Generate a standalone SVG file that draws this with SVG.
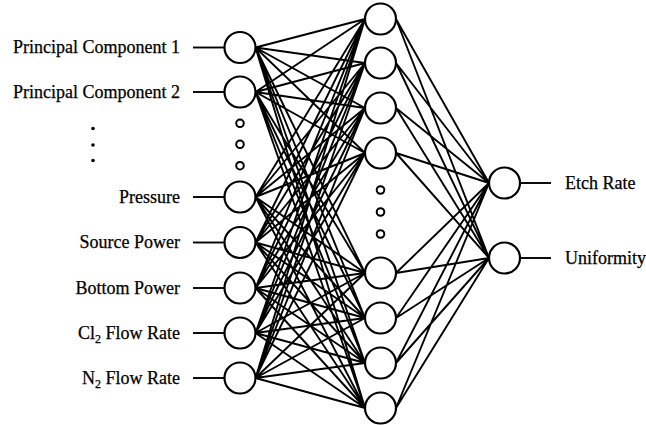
<svg xmlns="http://www.w3.org/2000/svg" width="646" height="425" viewBox="0 0 646 425">
  <style>
    .node { fill: #fff; stroke: #000; stroke-width: 2.2; }
    .dot-node { fill: #fff; stroke: #000; stroke-width: 2; }
    .edge { stroke: #000; stroke-width: 1.9; fill: none; }
    .lead { stroke: #000; stroke-width: 1.9; }
    .label { font-family: "Liberation Serif", "Times New Roman", serif; font-size: 18px; fill: #000; stroke: #000; stroke-width: 0.25; }
    .sub { font-size: 12px; }
  </style>
  <rect width="646" height="425" fill="#fff"/>

  <!-- connectors: input layer -> hidden layer -> output layer -->
  <g id="connectors">
    <g id="input-hidden">
      <!-- from each input (x=255.5) to each hidden node (x=365) -->
      <path class="edge" d="
        M255.5,47.5 L365,19 M255.5,47.5 L365,63 M255.5,47.5 L365,108 M255.5,47.5 L365,153 M255.5,47.5 L365,273 M255.5,47.5 L365,318 M255.5,47.5 L365,363 M255.5,47.5 L365,408
        M255.5,92 L365,19 M255.5,92 L365,63 M255.5,92 L365,108 M255.5,92 L365,153 M255.5,92 L365,273 M255.5,92 L365,318 M255.5,92 L365,363 M255.5,92 L365,408
        M255.5,197 L365,19 M255.5,197 L365,63 M255.5,197 L365,108 M255.5,197 L365,153 M255.5,197 L365,273 M255.5,197 L365,318 M255.5,197 L365,363 M255.5,197 L365,408
        M255.5,242.5 L365,19 M255.5,242.5 L365,63 M255.5,242.5 L365,108 M255.5,242.5 L365,153 M255.5,242.5 L365,273 M255.5,242.5 L365,318 M255.5,242.5 L365,363 M255.5,242.5 L365,408
        M255.5,288 L365,19 M255.5,288 L365,63 M255.5,288 L365,108 M255.5,288 L365,153 M255.5,288 L365,273 M255.5,288 L365,318 M255.5,288 L365,363 M255.5,288 L365,408
        M255.5,333 L365,19 M255.5,333 L365,63 M255.5,333 L365,108 M255.5,333 L365,153 M255.5,333 L365,273 M255.5,333 L365,318 M255.5,333 L365,363 M255.5,333 L365,408
        M255.5,378 L365,19 M255.5,378 L365,63 M255.5,378 L365,108 M255.5,378 L365,153 M255.5,378 L365,273 M255.5,378 L365,318 M255.5,378 L365,363 M255.5,378 L365,408"/>
    </g>
    <g id="hidden-output">
      <!-- from each hidden node (x=396) to both outputs (x=489) -->
      <path class="edge" d="
        M396,19 L489,183 M396,19 L489,258
        M396,63 L489,183 M396,63 L489,258
        M396,108 L489,183 M396,108 L489,258
        M396,153 L489,183 M396,153 L489,258
        M396,273 L489,183 M396,273 L489,258
        M396,318 L489,183 M396,318 L489,258
        M396,363 L489,183 M396,363 L489,258
        M396,408 L489,183 M396,408 L489,258"/>
    </g>
    <g id="leads">
      <line class="lead" x1="193" y1="47.5" x2="224.5" y2="47.5"/>
      <line class="lead" x1="193" y1="92" x2="224.5" y2="92"/>
      <line class="lead" x1="193" y1="197" x2="224.5" y2="197"/>
      <line class="lead" x1="193" y1="242.5" x2="224.5" y2="242.5"/>
      <line class="lead" x1="193" y1="288" x2="224.5" y2="288"/>
      <line class="lead" x1="193" y1="333" x2="224.5" y2="333"/>
      <line class="lead" x1="193" y1="378" x2="224.5" y2="378"/>
      <line class="lead" x1="520" y1="183" x2="551" y2="183"/>
      <line class="lead" x1="520" y1="258" x2="551" y2="258"/>
    </g>
  </g>

  <!-- input layer -->
  <g id="in-pc1"><circle class="node" cx="240" cy="47.5" r="15.5"/><text class="label" x="180" y="53" text-anchor="end">Principal Component 1</text></g>
  <g id="in-pc2"><circle class="node" cx="240" cy="92" r="15.5"/><text class="label" x="180" y="97.5" text-anchor="end">Principal Component 2</text></g>
  <g id="in-ellipsis">
    <circle class="dot-node" cx="240" cy="123.3" r="3.8"/>
    <circle class="dot-node" cx="240" cy="144.3" r="3.8"/>
    <circle class="dot-node" cx="240" cy="165.7" r="3.8"/>
    <circle cx="93" cy="128.5" r="1.8" fill="#000"/>
    <circle cx="93" cy="145" r="1.8" fill="#000"/>
    <circle cx="93" cy="160.5" r="1.8" fill="#000"/>
  </g>
  <g id="in-pressure"><circle class="node" cx="240" cy="197" r="15.5"/><text class="label" x="180" y="202.5" text-anchor="end">Pressure</text></g>
  <g id="in-source"><circle class="node" cx="240" cy="242.5" r="15.5"/><text class="label" x="180" y="248" text-anchor="end">Source Power</text></g>
  <g id="in-bottom"><circle class="node" cx="240" cy="288" r="15.5"/><text class="label" x="180" y="293.5" text-anchor="end">Bottom Power</text></g>
  <g id="in-cl2"><circle class="node" cx="240" cy="333" r="15.5"/><text class="label" x="180" y="338.5" text-anchor="end">Cl<tspan class="sub" dy="4">2</tspan><tspan dy="-4"> Flow Rate</tspan></text></g>
  <g id="in-n2"><circle class="node" cx="240" cy="378" r="15.5"/><text class="label" x="180" y="383.5" text-anchor="end">N<tspan class="sub" dy="4">2</tspan><tspan dy="-4"> Flow Rate</tspan></text></g>

  <!-- hidden layer -->
  <g id="h1"><circle class="node" cx="380.5" cy="19" r="15.5"/></g>
  <g id="h2"><circle class="node" cx="380.5" cy="63" r="15.5"/></g>
  <g id="h3"><circle class="node" cx="380.5" cy="108" r="15.5"/></g>
  <g id="h4"><circle class="node" cx="380.5" cy="153" r="15.5"/></g>
  <g id="h-ellipsis">
    <circle class="dot-node" cx="380.5" cy="190" r="3.8"/>
    <circle class="dot-node" cx="380.5" cy="212" r="3.8"/>
    <circle class="dot-node" cx="380.5" cy="234" r="3.8"/>
  </g>
  <g id="h5"><circle class="node" cx="380.5" cy="273" r="15.5"/></g>
  <g id="h6"><circle class="node" cx="380.5" cy="318" r="15.5"/></g>
  <g id="h7"><circle class="node" cx="380.5" cy="363" r="15.5"/></g>
  <g id="h8"><circle class="node" cx="380.5" cy="408" r="15.5"/></g>

  <!-- output layer -->
  <g id="out-etch"><circle class="node" cx="504.5" cy="183" r="15.5"/><text class="label" x="565" y="189">Etch Rate</text></g>
  <g id="out-uniformity"><circle class="node" cx="504.5" cy="258" r="15.5"/><text class="label" x="565" y="264">Uniformity</text></g>
</svg>
